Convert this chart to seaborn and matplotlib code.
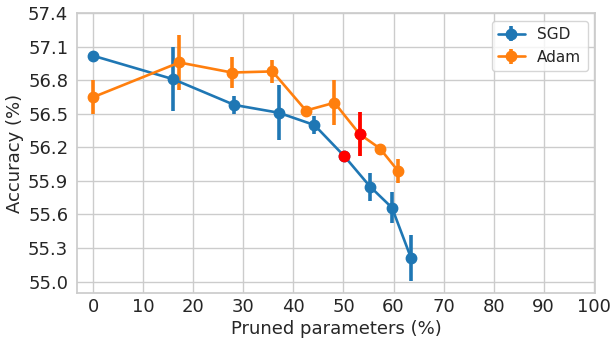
import matplotlib
matplotlib.use("Agg")
import matplotlib.pyplot as plt
import seaborn as sns
import numpy as np

# Data
sgd_x = [0, 16.0, 28.2, 37.1, 44.2, 50.2, 55.3, 59.7, 63.5]
sgd_y = [57.02, 56.81, 56.58, 56.51, 56.40, 56.12, 55.85, 55.66, 55.21]
sgd_err = [0.0, 0.285, 0.08, 0.245, 0.08, 0.05, 0.125, 0.14, 0.205]
sgd_red = 5

adam_x = [0, 17.2, 27.7, 35.8, 42.5, 48.2, 53.2, 57.3, 60.9]
adam_y = [56.65, 56.96, 56.87, 56.88, 56.53, 56.60, 56.32, 56.19, 55.99]
adam_err = [0.15, 0.245, 0.135, 0.1, 0.04, 0.2, 0.2, 0.03, 0.11]
adam_red = 6

x_ticks = list(range(0, 101, 10))
y_ticks = [55.0, 55.3, 55.6, 55.9, 56.2, 56.5, 56.8, 57.1, 57.4]

sns.set_theme(style="whitegrid", context="notebook")
plt.rcParams["font.family"] = ["DejaVu Sans"]
pal = sns.color_palette("tab10")

fig = plt.figure(figsize=(6.13, 3.41), dpi=100)
ax = fig.add_axes([0.126, 0.1416, 0.971 - 0.126, 0.961 - 0.1416])

ax.errorbar(sgd_x, sgd_y, yerr=sgd_err, fmt="-o", color=pal[0], label="SGD",
            elinewidth=2.6, lw=1.9, ms=7.5)
ax.errorbar(adam_x, adam_y, yerr=adam_err, fmt="-o", color=pal[1], label="Adam",
            elinewidth=2.6, lw=1.9, ms=7.5)
for xs, ys, es, i in [(sgd_x, sgd_y, sgd_err, sgd_red), (adam_x, adam_y, adam_err, adam_red)]:
    ax.errorbar([xs[i]], [ys[i]], yerr=[es[i]], fmt="o", color="red",
                elinewidth=2.6, ms=7.5, zorder=5)

ax.set_xlim(-3.2, 100.3)
ax.set_ylim(54.9, 57.4)
ax.set_xticks(x_ticks)
ax.set_yticks(y_ticks)
ax.set_yticklabels([f"{v:.1f}" for v in y_ticks])
ax.tick_params(axis="x", labelsize=13, length=0, pad=4)
ax.tick_params(axis="y", labelsize=13, length=0, pad=6.5)
ax.set_xlabel("Pruned parameters (%)", fontsize=13, labelpad=3)
ax.set_ylabel("Accuracy (%)", fontsize=13, labelpad=3)
ax.legend(loc="upper right", fontsize=11, handlelength=1.8)

fig.savefig("out.png", dpi=100)
